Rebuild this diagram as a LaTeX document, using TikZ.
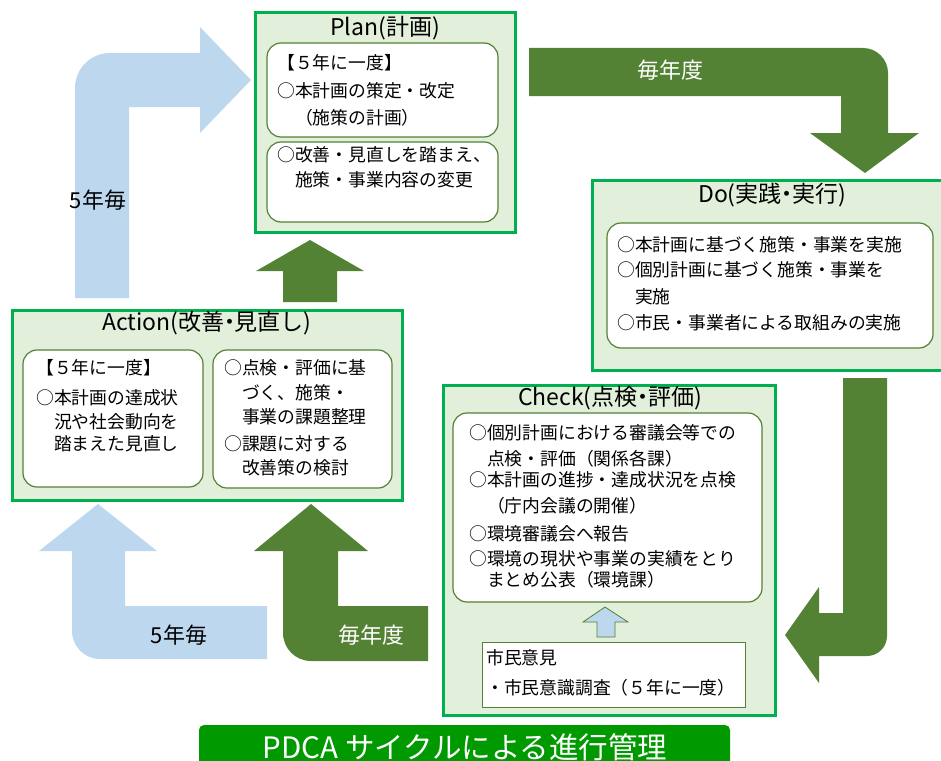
\documentclass[tikz,border=0pt]{standalone}
\usepackage{fontspec}
\setmainfont{Noto Sans CJK JP}
\definecolor{lblue}{HTML}{BDD7EE}
\definecolor{dgreen}{HTML}{548235}
\definecolor{bgreen}{HTML}{00B050}
\definecolor{pale}{HTML}{E2EFDA}
\definecolor{barg}{HTML}{009900}
\newcommand\mydot{\makebox[0.45em]{・}}
\begin{document}
\begin{tikzpicture}[x=1pt,y=-1pt,
  bigbox/.style={fill=pale, draw=bgreen, line width=3pt},
  inbox/.style={fill=white, draw=dgreen, line width=1.2pt, rounded corners=14pt},
  plainbox/.style={fill=white, draw=dgreen, line width=1pt},
  ttl/.style={inner sep=0pt, font=\fontsize{23}{27}\selectfont},
  tx/.style={anchor=base west, inner sep=0pt, font=\fontsize{17.8}{20}\selectfont},
  lbl/.style={inner sep=0pt, font=\fontsize{22}{26}\selectfont},
  barlbl/.style={inner sep=0pt, text=white, font=\fontsize{29.5}{33}\selectfont}]
\useasboundingbox (0,0) rectangle (941,760);

% ---- block arrows ----
% top-left light blue (Action -> Plan, 5 years)
\fill[lblue] (75,298) -- (75,88) arc[start angle=180, end angle=270, radius=35]
  -- (200,53) -- (200,27) -- (251,80) -- (200,133) -- (200,107) -- (129,107) -- (129,298) -- cycle;
% top-right green (Plan -> Do)
\fill[dgreen] (529,48) -- (863,48) arc[start angle=270, end angle=360, radius=25]
  -- (888,133) -- (919,133) -- (865,173) -- (810,133) -- (841,133) -- (841,96) -- (529,96) -- cycle;
% right green (Do -> Check)
\fill[dgreen] (843,378) -- (887,378) -- (887,636) arc[start angle=0, end angle=90, radius=20]
  -- (819,656) -- (819,683) -- (785,635) -- (819,587) -- (819,613) -- (843,613) -- cycle;
% bottom light blue (Check -> Action, 5 years)
\fill[lblue] (98,504) -- (157,551) -- (125,551) -- (125,606) -- (267,606) -- (267,659)
  -- (100,659) arc[start angle=90, end angle=180, radius=28] -- (72,551) -- (39,551) -- cycle;
% bottom green (Check -> Action, every year)
\fill[dgreen] (311,504) -- (368,551) -- (338,551) -- (338,606) -- (428,606) -- (428,661)
  -- (311,661) arc[start angle=90, end angle=180, radius=28] -- (283,551) -- (254,551) -- cycle;
% middle green up (Action -> Plan)
\fill[dgreen] (310,240) -- (364,271) -- (337,271) -- (337,302) -- (283,302) -- (283,271) -- (256,271) -- cycle;

% ---- Plan ----
\path[bigbox] (255,13) rectangle (515,232);
\node[ttl] (plant) at (385,28) {Plan(計画)};
\path[inbox] (267,43) rectangle (498,137);
\path[inbox] (267,142) rectangle (498,222);
\node[tx] (p1) at (277,69.8) {【５年に一度】};
\node[tx] (p2) at (277,97.8) {○本計画の策定・改定};
\node[tx] (p3) at (277,124.8) {　（施策の計画）};
\node[tx] (p4) at (277,161.8) {○改善・見直しを踏まえ、};
\node[tx] (p5) at (277,186.8) {　施策・事業内容の変更};

% ---- Do ----
\path[bigbox] (592,180) rectangle (952,370);
\node[ttl] (dot) at (772,195) {Do(実践\mydot 実行)};
\path[inbox] (607,223) rectangle (933,348);
\node[tx] (d1) at (617,251.8) {○本計画に基づく施策・事業を実施};
\node[tx] (d2) at (617,276.8) {○個別計画に基づく施策・事業を};
\node[tx] (d3) at (617,303.8) {　実施};
\node[tx] (d4) at (617,329.8) {○市民・事業者による取組みの実施};

% ---- Action ----
\path[bigbox] (12,310) rectangle (402,500);
\node[ttl] (actt) at (207,323) {Action(改善\mydot 見直し)};
\path[inbox] (23,350) rectangle (203,487);
\path[inbox] (213,350) rectangle (392,488);
\node[tx] (a1) at (36,374.8) {【５年に一度】};
\node[tx] (a2) at (36,404.8) {○本計画の達成状};
\node[tx] (a3) at (36,428.8) {　況や社会動向を};
\node[tx] (a4) at (36,450.8) {　踏まえた見直し};
\node[tx] (b1) at (224,374.8) {○点検・評価に基};
\node[tx] (b2) at (224,399.8) {　づく、施策・};
\node[tx] (b3) at (224,423.8) {　事業の課題整理};
\node[tx] (b4) at (224,450.8) {○課題に対する};
\node[tx] (b5) at (224,474.8) {　改善策の検討};

% ---- Check ----
\path[bigbox] (443,385) rectangle (775,715);
\node[ttl] (cht) at (610,398) {Check(点検\mydot 評価)};
\path[inbox] (453,413) rectangle (762,602);
\node[tx] (c1) at (469,439.8) {○個別計画における審議会等での};
\node[tx] (c2) at (469,465.8) {　点検・評価（関係各課）};
\node[tx] (c3) at (469,486.8) {○本計画の進捗・達成状況を点検};
\node[tx] (c4) at (469,512.8) {　（庁内会議の開催）};
\node[tx] (c5) at (469,540.8) {○環境審議会へ報告};
\node[tx] (c6) at (469,565.8) {○環境の現状や事業の実績をとり};
\node[tx] (c7) at (469,586.8) {　まとめ公表（環境課）};
\fill[lblue, draw=dgreen, line width=0.8pt] (605,607) -- (628,622) -- (615,622) -- (615,637)
  -- (597,637) -- (597,622) -- (583,622) -- cycle;
\path[plainbox] (482,642) rectangle (745,707);
\node[tx] (s1) at (486,664.8) {市民意見};
\node[tx] (s2) at (486,694.8) {・市民意識調査（５年に一度）};

% ---- arrow labels ----
\node[lbl] (l1) at (98,200) {5年毎};
\node[lbl, text=white] (l2) at (670,70) {毎年度};
\node[lbl] (l3) at (179,635) {5年毎};
\node[lbl, text=white] (l4) at (371,635) {毎年度};

% ---- bottom title bar ----
\fill[barg, rounded corners=5pt] (199,725) rectangle (730,780);
\node[barlbl] (bar) at (465,747) {PDCA サイクルによる進行管理};
\end{tikzpicture}
\end{document}
